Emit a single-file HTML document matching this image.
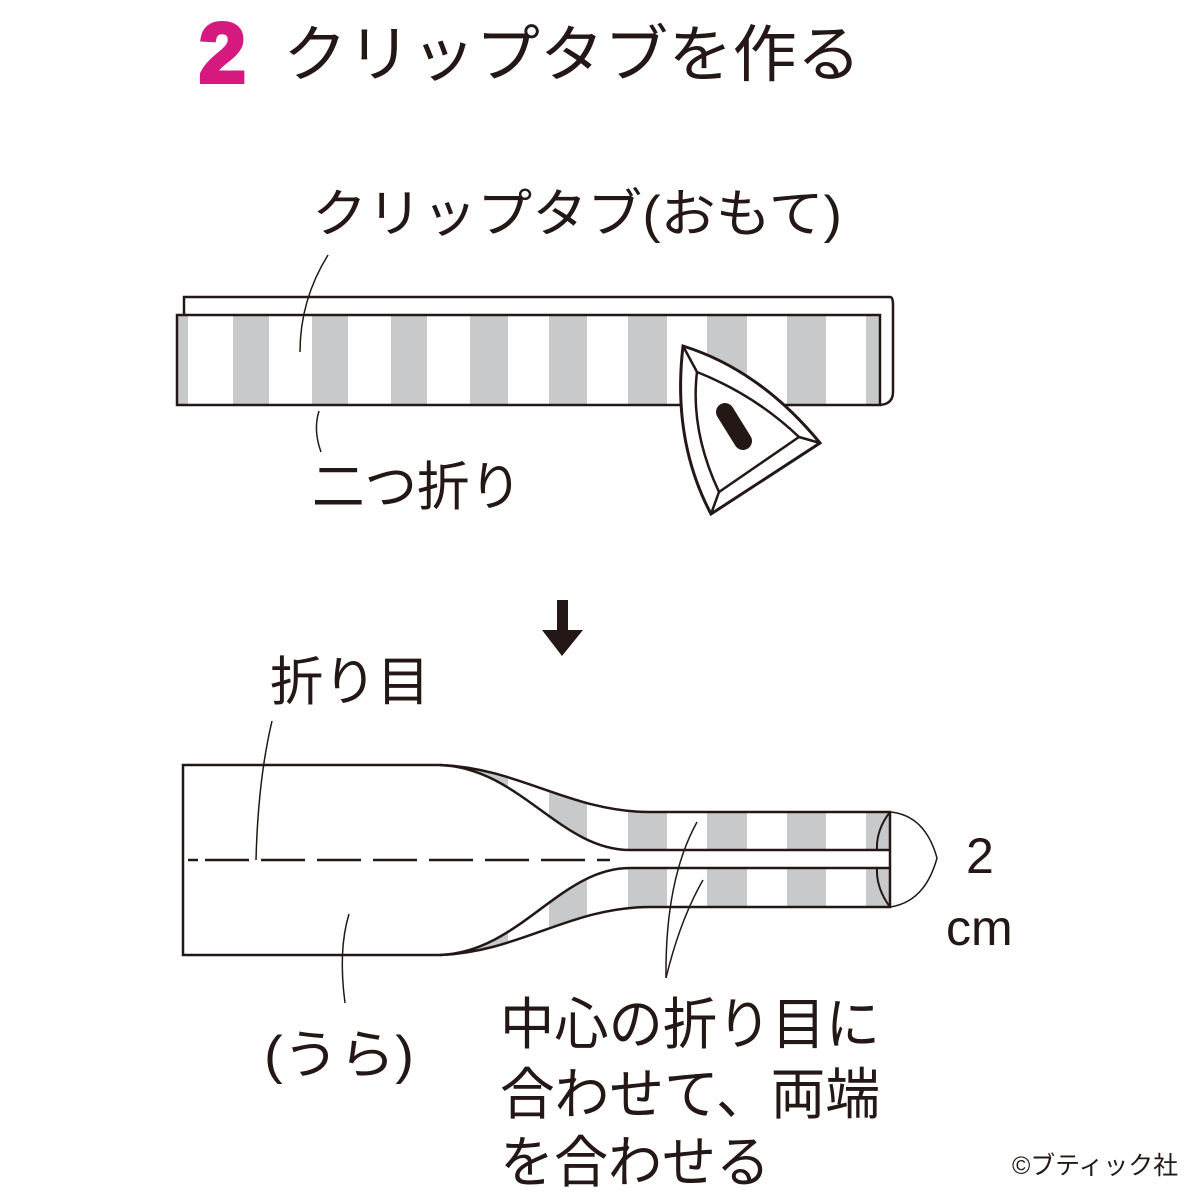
<!DOCTYPE html>
<html><head><meta charset="utf-8"><style>
html,body{margin:0;padding:0;background:#fff;}
svg{display:block;}
text{font-family:"Liberation Sans","Noto Sans CJK JP",sans-serif;fill:#231815;}
</style></head><body>
<svg width="1200" height="1200" viewBox="0 0 1200 1200" xmlns="http://www.w3.org/2000/svg">
<defs>
<clipPath id="c1"><rect x="177" y="315" width="703" height="90"/></clipPath>
<clipPath id="cu"><path d="M440,765 C520,768 570,812 650,812 L890,812 L890,850 L630,850 C560,850 520,768 440,765 Z"/></clipPath>
<clipPath id="cl"><path d="M440,955 C520,952 570,907 650,907 L890,907 L890,868 L630,868 C560,868 520,952 440,955 Z"/></clipPath>
<g id="stripes">
<rect x="175" y="0" width="13" height="1200"/>
<rect x="233" y="0" width="36" height="1200"/>
<rect x="312" y="0" width="36" height="1200"/>
<rect x="391" y="0" width="36" height="1200"/>
<rect x="470" y="0" width="38" height="1200"/>
<rect x="549" y="0" width="38" height="1200"/>
<rect x="628" y="0" width="39" height="1200"/>
<rect x="707" y="0" width="40" height="1200"/>
<rect x="787" y="0" width="39" height="1200"/>
<rect x="866" y="0" width="39" height="1200"/>
</g>
</defs>

<text x="199" y="82" font-size="84" font-weight="900" style="fill:#d6197f;stroke:#d6197f;stroke-width:4" font-family="Liberation Sans">2</text>
<text x="283" y="76" font-size="62" textLength="578" lengthAdjust="spacingAndGlyphs">クリップタブを作る</text>

<text x="312" y="232" font-size="52" textLength="530" lengthAdjust="spacingAndGlyphs">クリップタブ(おもて)</text>

<!-- top strip -->
<path d="M184,315 L184,297 L890,297 Q893,297 893,305 L893,392 Q893,404 880,405" fill="none" stroke="#231815" stroke-width="2.5"/>
<g clip-path="url(#c1)" fill="#c8c9ca"><use href="#stripes"/></g>
<rect x="177" y="315" width="703" height="90" fill="none" stroke="#231815" stroke-width="2.5"/>
<path d="M328,255 Q300,300 300,352" fill="none" stroke="#231815" stroke-width="1.5"/>
<path d="M319,411 Q313,430 321,452" fill="none" stroke="#231815" stroke-width="1.5"/>
<text x="312" y="505" font-size="53" textLength="210" lengthAdjust="spacingAndGlyphs">二つ折り</text>

<!-- iron -->
<path d="M683,346 Q760,370 820,443 L711,514 Q672,440 683,346 Z" fill="#fff" stroke="#231815" stroke-width="3"/>
<path d="M697,372 Q755,395 799,437 L719,492 Q690,430 697,372 Z" fill="none" stroke="#231815" stroke-width="2.5"/>
<line x1="683" y1="346" x2="697" y2="372" stroke="#231815" stroke-width="2.5"/>
<line x1="820" y1="443" x2="799" y2="437" stroke="#231815" stroke-width="2.5"/>
<line x1="711" y1="514" x2="719" y2="492" stroke="#231815" stroke-width="2.5"/>
<line x1="725" y1="412" x2="743" y2="441" stroke="#231815" stroke-width="18" stroke-linecap="round"/>

<!-- arrow -->
<rect x="557" y="600" width="11" height="35" fill="#231815"/>
<path d="M542,630 L583,630 L562,656 Z" fill="#231815"/>

<text x="270" y="700" font-size="53" textLength="160" lengthAdjust="spacingAndGlyphs">折り目</text>

<!-- bottom piece -->
<g clip-path="url(#cu)" fill="#c8c9ca"><use href="#stripes"/></g>
<g clip-path="url(#cl)" fill="#c8c9ca"><use href="#stripes"/></g>
<g fill="none" stroke="#231815" stroke-width="2.5">
<path d="M440,765 L183,765 L183,955 L440,955"/>
<path d="M440,765 C520,768 570,812 650,812 L890,812 L890,907 L650,907 C570,907 520,952 440,955"/>
<path d="M440,765 C520,768 560,850 630,850 L890,850"/>
<path d="M440,955 C520,952 560,868 630,868 L890,868"/>
<path d="M890,812 Q876,830 877,850" stroke-width="2"/>
<path d="M890,907 Q876,888 877,868" stroke-width="2"/>
</g>
<path d="M890,812 Q925,815 937,858 Q925,902 890,907" fill="none" stroke="#231815" stroke-width="1.5"/>
<g stroke="#231815" stroke-width="2.5">
<line x1="188" y1="860" x2="198" y2="860"/>
<line x1="205" y1="860" x2="610" y2="860" stroke-dasharray="44,12"/>
</g>
<path d="M272,721 Q258,780 256,860" fill="none" stroke="#231815" stroke-width="1.5"/>
<path d="M349,914 Q338,950 345,1003" fill="none" stroke="#231815" stroke-width="1.5"/>
<path d="M697,822 Q665,880 666,978" fill="none" stroke="#231815" stroke-width="1.5"/>
<path d="M703,880 Q680,920 666,978" fill="none" stroke="#231815" stroke-width="1.5"/>

<text x="966" y="873" font-size="50">2</text>
<text x="946" y="945" font-size="50">cm</text>

<text x="264" y="1073" font-size="53" textLength="150" lengthAdjust="spacingAndGlyphs">(うら)</text>
<text x="500" y="1044" font-size="56" textLength="380" lengthAdjust="spacingAndGlyphs">中心の折り目に</text>
<text x="500" y="1114" font-size="56" textLength="380" lengthAdjust="spacingAndGlyphs">合わせて、両端</text>
<text x="500" y="1182" font-size="56" textLength="270" lengthAdjust="spacingAndGlyphs">を合わせる</text>

<text x="1012" y="1174" font-size="25" textLength="166" lengthAdjust="spacingAndGlyphs">©ブティック社</text>
</svg>
</body></html>
